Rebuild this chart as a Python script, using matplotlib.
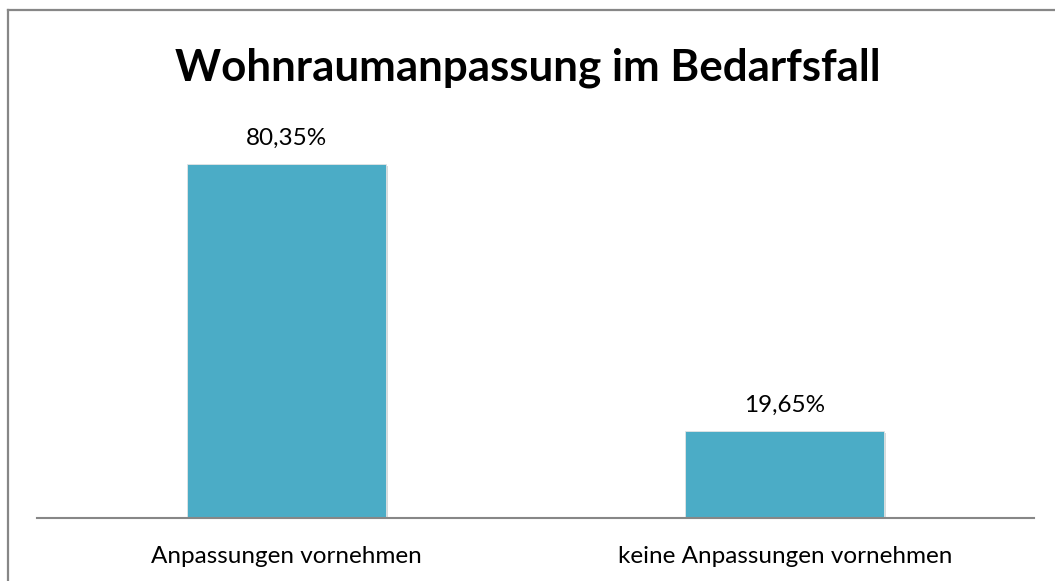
import matplotlib.pyplot as plt
import matplotlib.patheffects as pe
from matplotlib.lines import Line2D

categories = ["Anpassungen vornehmen", "keine Anpassungen vornehmen"]
values = [80.35, 19.65]
labels = ["80,35%", "19,65%"]

plt.rcParams['font.family'] = ['Lato', 'DejaVu Sans']

W, H = 1055, 581
fig = plt.figure(figsize=(W / 100, H / 100), dpi=100)

# outer chart frame: only top and left edges are visible in the crop
frame_c = '#878787'
fig.lines.append(Line2D([8 / W, 1], [1 - 9.5 / H, 1 - 9.5 / H], transform=fig.transFigure,
                        color=frame_c, linewidth=1.6))
fig.lines.append(Line2D([8 / W, 8 / W], [0, 1 - 9.5 / H], transform=fig.transFigure,
                        color=frame_c, linewidth=1.6))

ax = fig.add_axes([37 / W, 1 - 518 / H, (1034 - 37) / W, (518 - 121.5) / H])
bars = ax.bar(range(len(values)), values, width=0.4, color='#4BACC6',
              edgecolor='#e4e4e4', linewidth=0.6)
for b in bars:
    b.set_path_effects([pe.SimplePatchShadow(offset=(1.2, -1.2), alpha=0.18), pe.Normal()])

ax.set_xlim(-0.5, 1.5)
ax.set_ylim(0, 90)
for i, (v, t) in enumerate(zip(values, labels)):
    ax.text(i, v + 5.9, t, ha='center', va='center', fontsize=17.5, color='#000000')

ax.set_xticks(range(len(categories)))
ax.set_xticklabels(categories, fontsize=17.5)
ax.tick_params(axis='x', length=0, pad=20)
ax.set_yticks([])
for s in ['top', 'right', 'left']:
    ax.spines[s].set_visible(False)
ax.spines['bottom'].set_color(frame_c)
ax.spines['bottom'].set_linewidth(1.5)

fig.text(0.5, 1 - 68 / H, "Wohnraumanpassung im Bedarfsfall", ha='center', va='center',
         fontsize=31.6, fontweight='bold')

fig.savefig('out.png', dpi=100)
